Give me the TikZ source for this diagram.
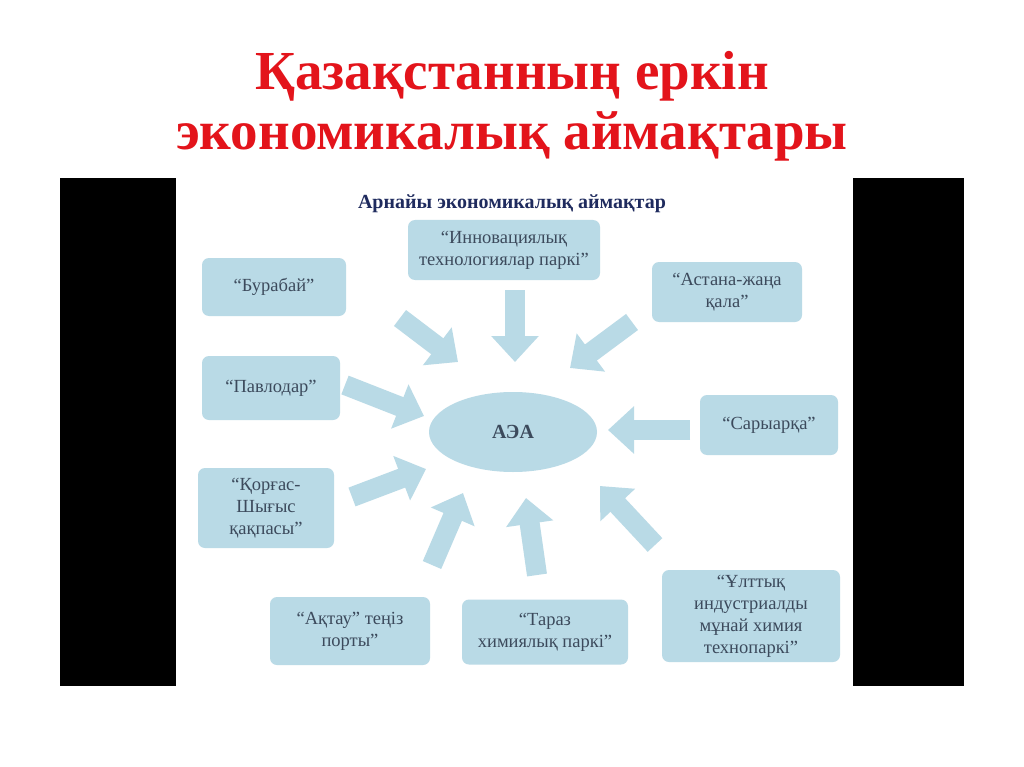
\documentclass[tikz,border=0pt]{standalone}
\usepackage{fontspec}
\setmainfont{Liberation Serif}
\usetikzlibrary{arrows.meta,shapes.geometric}
\definecolor{boxc}{HTML}{B9DAE6}
\definecolor{txtc}{HTML}{3C4A5C}
\definecolor{navy}{HTML}{1F2B5E}
\definecolor{titlec}{HTML}{E3141B}
\tikzset{
  zbox/.style={fill=boxc, rounded corners=7pt, align=center, text=txtc, font=\fontsize{18.5}{22}\selectfont, inner sep=0pt},
  barrow/.style={line width=20pt, boxc, -{Triangle[width=46pt,length=26pt]}}
}
\begin{document}
\begin{tikzpicture}[x=1pt,y=-1pt]
\useasboundingbox (0,0) rectangle (1024,767);
\fill[white] (0,0) rectangle (1024,767);
\node[font=\bfseries\fontsize{55}{60}\selectfont, text=titlec, align=center] (title) at (512,106) {Қазақстанның еркін\\экономикалық аймақтары};
\fill[black] (60,178) rectangle (176,686);
\fill[black] (853,178) rectangle (964,686);
\node[font=\bfseries\fontsize{20}{22}\selectfont, text=navy] (sub) at (512,204) {Арнайы экономикалық аймақтар};
\node[ellipse, fill=boxc, minimum width=168pt, minimum height=80pt, text=txtc, font=\bfseries\fontsize{20}{22}\selectfont] (c) at (513,432) {АЭА};
\node[zbox, minimum width=192pt, minimum height=60pt] (inn) at (504,250) {“Инновациялық\\технологиялар паркі”};
\node[zbox, minimum width=144pt, minimum height=58pt] (bur) at (274,287) {“Бурабай”};
\node[zbox, minimum width=150pt, minimum height=60pt] (ast) at (727,292) {“Астана-жаңа\\қала”};
\node[zbox, minimum width=138pt, minimum height=64pt] (pav) at (271,388) {“Павлодар”};
\node[zbox, minimum width=138pt, minimum height=60pt] (sar) at (769,425) {“Сарыарқа”};
\node[zbox, minimum width=136pt, minimum height=80pt] (kor) at (266,508) {“Қорғас-\\Шығыс\\қақпасы”};
\node[zbox, minimum width=160pt, minimum height=68pt] (akt) at (350,631) {“Ақтау” теңіз\\порты”};
\node[zbox, minimum width=166pt, minimum height=65pt] (tar) at (545,632) {“Тараз\\химиялық паркі”};
\node[zbox, minimum width=178pt, minimum height=92pt] (ult) at (751,616) {“Ұлттық\\индустриалды\\мұнай химия\\технопаркі”};
\coordinate (a1s) at (400,318); \coordinate (a1e) at (458,362);
\coordinate (a2s) at (515,290); \coordinate (a2e) at (515,362);
\coordinate (a3s) at (632,322); \coordinate (a3e) at (570,368);
\coordinate (a4s) at (345,385); \coordinate (a4e) at (424,416);
\coordinate (a5s) at (690,430); \coordinate (a5e) at (608,430);
\coordinate (a6s) at (352,497); \coordinate (a6e) at (426,469);
\coordinate (a7s) at (432,565); \coordinate (a7e) at (463,493);
\coordinate (a8s) at (537,575); \coordinate (a8e) at (526,498);
\coordinate (a9s) at (655,545); \coordinate (a9e) at (600,486);
\foreach \i in {1,...,9} {\draw[barrow] (a\i s) -- (a\i e);}
\end{tikzpicture}
\end{document}
